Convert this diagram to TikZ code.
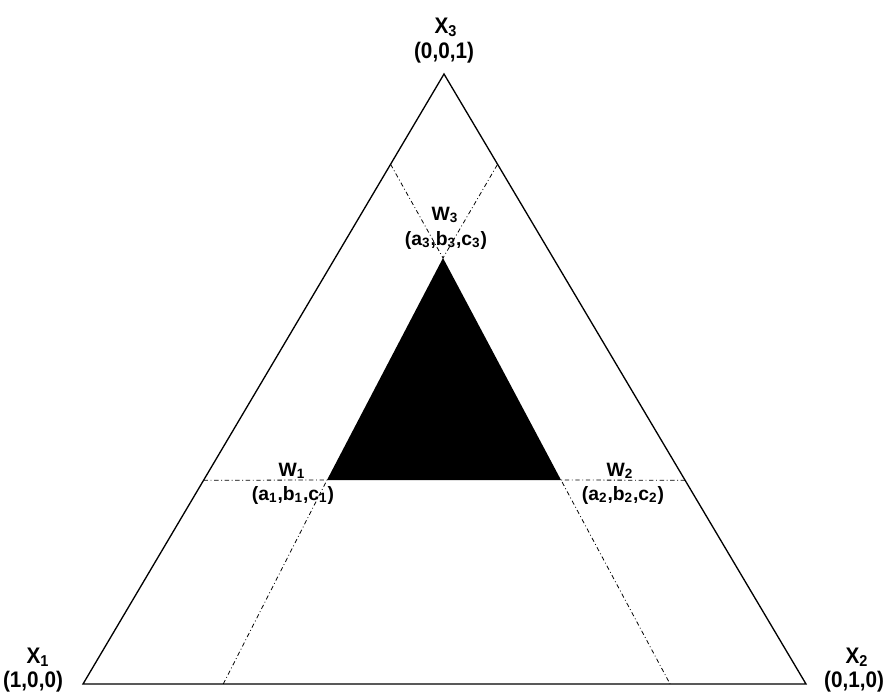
\documentclass[tikz,border=0pt]{standalone}
\usepackage{fontspec}
\setmainfont{Liberation Sans}
\usetikzlibrary{calc}

\newcommand{\nrw}[1]{\scalebox{0.92}[1]{#1}}
\tikzset{
  vlbl/.style={font=\fontsize{12.8}{15}\selectfont\bfseries, inner sep=0pt, anchor=base},
  wlbl/.style={font=\fontsize{11}{13}\selectfont\bfseries, inner sep=0pt, anchor=base},
  edge/.style={line width=0.75pt, black},
  guide/.style={line width=0.45pt, black, dash pattern=on 2.5pt off 1.5pt on 0.5pt off 1.5pt}
}

\begin{document}
\begin{tikzpicture}[x=0.02cm, y=-0.02cm]
    \useasboundingbox (0,0) rectangle (885,691);
    % Vertices of the simplex
    \coordinate (x1) at (83,684);
    \coordinate (x2) at (806,684);
    \coordinate (x3) at (444,74);
    % Vertices of the inner triangle
    \coordinate (w1) at (327,480);
    \coordinate (w2) at (561,480);
    \coordinate (w3) at (443,258);
    % Ends of the guide lines on the outer edges
    \coordinate (e1) at ($(x1)!0.334!(x3)$);
    \coordinate (e2) at ($(x2)!0.334!(x3)$);
    \coordinate (e3) at ($(x1)!0.852!(x3)$);
    \coordinate (e4) at ($(x2)!0.852!(x3)$);
    \coordinate (b1) at ($(x1)!0.194!(x2)$);
    \coordinate (b2) at ($(x1)!0.812!(x2)$);
    % Outer triangle
    \draw[edge] (x1) -- (x2) -- (x3) -- cycle;
    % Guide lines
    \draw[guide] (e1) -- (w1) -- (b1);
    \draw[guide] (e2) -- (w2) -- (b2);
    \draw[guide] (e3) -- (w3) -- (e4);
    % Inner triangle
    \fill[black] (w1) -- (w2) -- (w3) -- cycle;
    % Labels of the vertices
    \node[vlbl] (nx3) at (446,33) {\nrw{X\textsubscript{3}}};
    \node[vlbl] (cx3) at (444,58) {\nrw{(0,0,1)}};
    \node[vlbl] (nx1) at (38,663) {\nrw{X\textsubscript{1}}};
    \node[vlbl] (cx1) at (33,687) {\nrw{(1,0,0)}};
    \node[vlbl] (nx2) at (857,663) {\nrw{X\textsubscript{2}}};
    \node[vlbl] (cx2) at (854,687) {\nrw{(0,1,0)}};
    \node[wlbl] (nw3) at (445,220) {W\textsubscript{3}};
    \node[wlbl] (cw3) at (446,245) {(a\textsubscript{3},b\textsubscript{3},c\textsubscript{3})};
    \node[wlbl] (nw1) at (292,476) {W\textsubscript{1}};
    \node[wlbl] (cw1) at (293,500) {(a\textsubscript{1},b\textsubscript{1},c\textsubscript{1})};
    \node[wlbl] (nw2) at (620,476) {W\textsubscript{2}};
    \node[wlbl] (cw2) at (623,500) {(a\textsubscript{2},b\textsubscript{2},c\textsubscript{2})};
  \end{tikzpicture}
\end{document}
